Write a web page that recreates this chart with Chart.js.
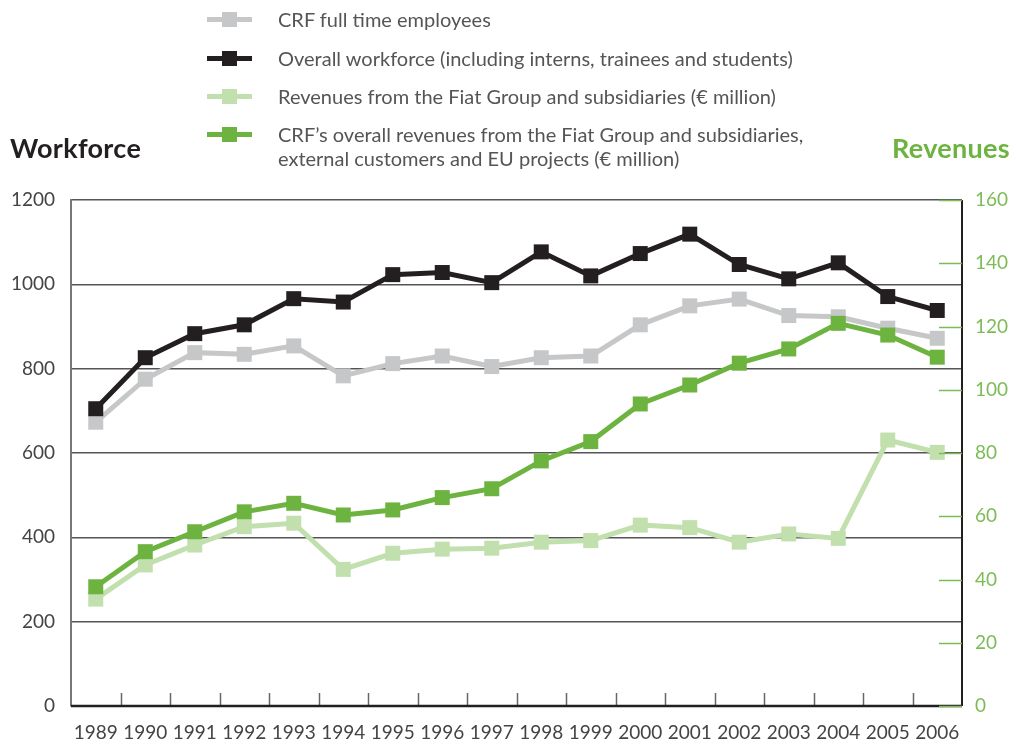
<!DOCTYPE html>
<html>
<head>
<meta charset="utf-8">
<script src="https://cdn.jsdelivr.net/npm/chart.js@4/dist/chart.umd.min.js"></script>
<style>
  html, body { margin: 0; padding: 0; background: #fff; }
  #wrap { position: relative; width: 1016px; height: 745px; overflow: hidden; }
  #c { position: absolute; left: 0; top: 0; }
  .title { position: absolute; font-family: Lato, sans-serif; font-weight: bold; font-size: 27px; letter-spacing: 0.3px; }
  #legend { position: absolute; left: 207px; top: 0; font-family: Lato, sans-serif; font-size: 20px; color: #555; }
  .row { position: absolute; left: 0; white-space: nowrap; line-height: 24px; }
  .mk { position: absolute; left: 0; width: 45px; height: 5px; }
  .mk i { position: absolute; left: 15px; top: -5px; width: 15px; height: 15px; }
  .tx { position: absolute; left: 71px; top: 0; }
</style>
</head>
<body>
<div id="wrap">
  <canvas id="c" width="1016" height="745"></canvas>
  <div class="title" style="left:10px; top:131px; color:#231f20;">Workforce</div>
  <div class="title" style="right:6px; top:131px; color:#6db33f;">Revenues</div>
  <div id="legend"></div>
</div>
<script>
const years = ["1989","1990","1991","1992","1993","1994","1995","1996","1997","1998","1999","2000","2001","2002","2003","2004","2005","2006"];
const crfFullTime = [673, 775, 838, 834, 854, 783, 812, 830, 805, 826, 830, 904, 949, 965, 926, 923, 896, 872];
const overallWorkforce = [705, 826, 883, 904, 966, 958, 1023, 1028, 1004, 1077, 1020, 1073, 1119, 1047, 1013, 1051, 971, 938];
const fiatRevenues = [33.8, 44.6, 50.9, 56.7, 57.8, 43.2, 48.3, 49.6, 49.9, 51.8, 52.3, 57.2, 56.4, 51.8, 54.4, 53.0, 84.1, 80.2];
const overallRevenues = [37.7, 48.8, 55.1, 61.4, 64.1, 60.4, 62.0, 65.9, 68.7, 77.5, 83.6, 95.5, 101.5, 108.4, 112.9, 121.0, 117.3, 110.3];
const workforceTicks = [0, 200, 400, 600, 800, 1000, 1200];
const revenueTicks = [0, 20, 40, 60, 80, 100, 120, 140, 160];

const labels = [
  "CRF full time employees",
  "Overall workforce (including interns, trainees and students)",
  "Revenues from the Fiat Group and subsidiaries (\u20ac million)",
  "CRF\u2019s overall revenues from the Fiat Group and subsidiaries,\nexternal customers and EU projects (\u20ac million)"
];
const colors = ["#c6c7c9", "#231f20", "#c2dfae", "#6db33f"];

function ds(label, data, color, axis, order) {
  return {
    label, data, yAxisID: axis, order,
    borderColor: color, backgroundColor: color,
    pointBackgroundColor: color, pointBorderWidth: 0,
    borderWidth: 5, pointStyle: 'rect', pointRadius: 10.6, pointHoverRadius: 10.6,
    tension: 0, clip: false
  };
}

const tickPlugin = {
  id: 'customTicks',
  afterDraw(chart) {
    const ctx = chart.ctx;
    const a = chart.chartArea;
    const x = chart.scales.x;
    const y1 = chart.scales.y1;
    ctx.save();
    ctx.lineWidth = 2;
    ctx.strokeStyle = '#231f20';
    ctx.beginPath();
    ctx.moveTo(a.right, a.top); ctx.lineTo(a.right, a.bottom);
    ctx.stroke();
    ctx.strokeStyle = '#666';
    ctx.lineWidth = 1.5;
    for (let i = 1; i < years.length; i++) {
      const px = Math.round((x.getPixelForTick(i - 1) + x.getPixelForTick(i)) / 2) + 0.5;
      ctx.beginPath();
      ctx.moveTo(px, a.bottom);
      ctx.lineTo(px, a.bottom - 13);
      ctx.stroke();
    }
    ctx.strokeStyle = '#231f20';
    ctx.lineWidth = 2.5;
    ctx.beginPath();
    ctx.moveTo(a.left, a.bottom); ctx.lineTo(a.right, a.bottom);
    ctx.stroke();
    ctx.strokeStyle = '#7cbc57';
    ctx.lineWidth = 1.5;
    revenueTicks.forEach(v => {
      const py = Math.round(y1.getPixelForValue(v)) + 0.5;
      ctx.beginPath();
      ctx.moveTo(a.right - 23, py);
      ctx.lineTo(a.right, py);
      ctx.stroke();
    });
    ctx.restore();
  }
};

const chart = new Chart(document.getElementById('c'), {
  type: 'line',
  data: {
    labels: years,
    datasets: [
      ds(labels[0], crfFullTime, colors[0], 'y', 3),
      ds(labels[1], overallWorkforce, colors[1], 'y', 1),
      ds(labels[2], fiatRevenues, colors[2], 'y1', 2),
      ds(labels[3], overallRevenues, colors[3], 'y1', 0)
    ]
  },
  options: {
    responsive: false,
    animation: false,
    events: [],
    layout: { padding: { top: 200, left: 0, right: 0, bottom: 0 } },
    plugins: { legend: { display: false }, tooltip: { enabled: false } },
    scales: {
      x: {
        offset: true,
        grid: { display: false, drawTicks: false },
        border: { display: false },
        ticks: { color: '#444', font: { family: 'Lato', size: 19 }, padding: 15, maxRotation: 0, autoSkip: false },
        afterFit(s) { s.height = 39; }
      },
      y: {
        position: 'left',
        min: 0, max: 1200,
        afterBuildTicks(s) { s.ticks = workforceTicks.map(v => ({ value: v })); },
        grid: { color: '#555', lineWidth: 1.5, drawTicks: false },
        border: { display: true, color: '#777', width: 2 },
        ticks: { color: '#444', font: { family: 'Lato', size: 19 }, padding: 16, callback: v => String(v) },
        afterFit(s) { s.width = 71; }
      },
      y1: {
        position: 'right',
        min: 0, max: 160,
        afterBuildTicks(s) { s.ticks = revenueTicks.map(v => ({ value: v })); },
        grid: { drawOnChartArea: false, drawTicks: false },
        border: { display: false },
        ticks: { color: '#7cbc57', font: { family: 'Lato', size: 19 }, padding: 13, callback: v => String(v) },
        afterFit(s) { s.width = 54; }
      }
    }
  },
  plugins: [tickPlugin]
});

const legendEl = document.getElementById('legend');
const rowTops = [7, 46, 84, 122];
chart.data.datasets.forEach((d, i) => {
  const row = document.createElement('div');
  row.className = 'row';
  row.style.top = rowTops[i] + 'px';
  const mk = document.createElement('div');
  mk.className = 'mk';
  mk.style.background = d.borderColor;
  mk.style.top = '10px';
  const sq = document.createElement('i');
  sq.style.background = d.borderColor;
  mk.appendChild(sq);
  const tx = document.createElement('div');
  tx.className = 'tx';
  tx.innerHTML = d.label.split('\n').join('<br>');
  row.appendChild(mk);
  row.appendChild(tx);
  legendEl.appendChild(row);
});
</script>
</body>
</html>
